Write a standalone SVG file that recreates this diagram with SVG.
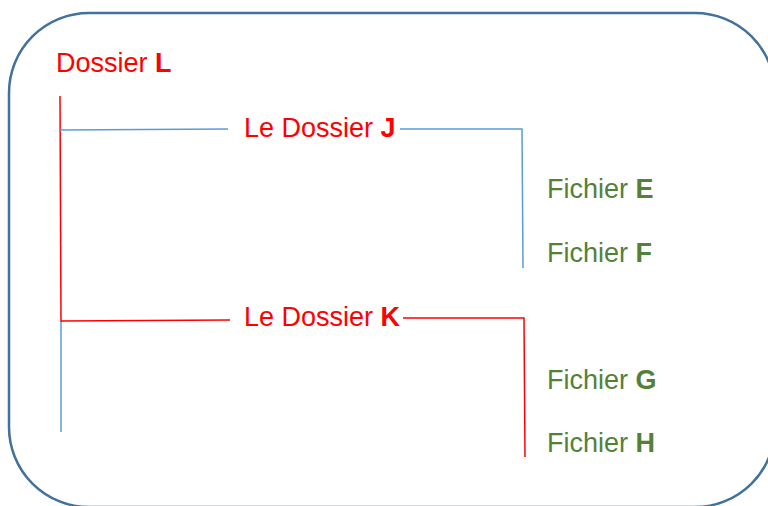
<svg xmlns="http://www.w3.org/2000/svg" width="768" height="506" viewBox="0 0 768 506">
<style>
text{font-family:"Liberation Sans",Arial,sans-serif;font-size:27px}
.r{fill:#FF0000}
.g{fill:#538135}
.b{font-weight:bold}
.lr{stroke:#FF0000;stroke-width:1.5;fill:none}
.lb{stroke:#5B9BD5;stroke-width:1.5;fill:none}
</style>
<rect x="9" y="13" width="766" height="494" rx="80" ry="80" fill="#FFFFFF" stroke="#41719C" stroke-width="2.5"/>
<g id="connectors">
<line class="lr" x1="60" y1="96" x2="61" y2="322"/>
<line class="lb" x1="61" y1="322" x2="61" y2="432"/>
<line class="lb" x1="59" y1="130" x2="228" y2="129"/>
<polyline class="lb" points="400,129 522,129 523,268"/>
<line class="lr" x1="61" y1="321" x2="230" y2="320"/>
<polyline class="lr" points="403,318 524,318 525,457"/>
</g>
<g id="dossierL"><text class="r" x="56" y="72">Dossier <tspan class="b">L</tspan></text></g>
<g id="dossierJ"><text class="r" x="244" y="137">Le Dossier <tspan class="b">J</tspan></text></g>
<g id="dossierK"><text class="r" x="244" y="326">Le Dossier <tspan class="b">K</tspan></text></g>
<g id="fichierE"><text class="g" x="547" y="198">Fichier <tspan class="b">E</tspan></text></g>
<g id="fichierF"><text class="g" x="547" y="262">Fichier <tspan class="b">F</tspan></text></g>
<g id="fichierG"><text class="g" x="547" y="389">Fichier <tspan class="b">G</tspan></text></g>
<g id="fichierH"><text class="g" x="547" y="452">Fichier <tspan class="b">H</tspan></text></g>
</svg>
